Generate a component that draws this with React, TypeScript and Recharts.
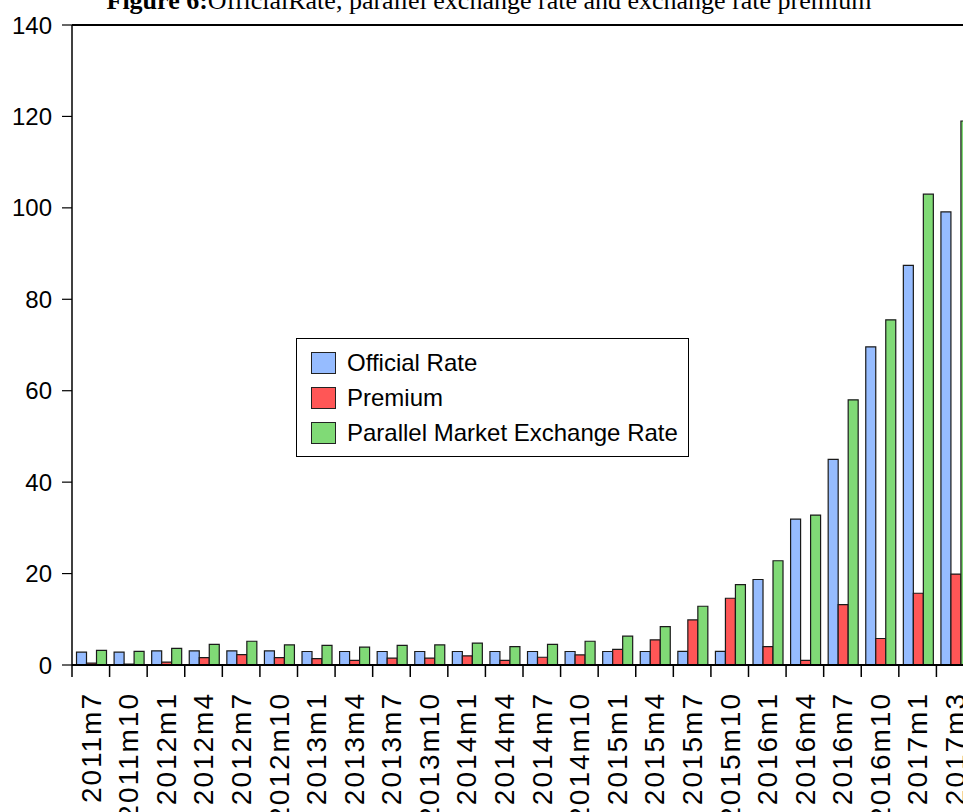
import React from 'react';
import { BarChart, Bar, XAxis, YAxis, Legend, ReferenceLine } from 'recharts';

const periods = [
  '2011m7', '2011m10', '2012m1', '2012m4', '2012m7', '2012m10',
  '2013m1', '2013m4', '2013m7', '2013m10', '2014m1', '2014m4',
  '2014m7', '2014m10', '2015m1', '2015m4', '2015m7', '2015m10',
  '2016m1', '2016m4', '2016m7', '2016m10', '2017m1', '2017m3',
];
const officialRate = [
  2.8, 2.8, 3.1, 3.1, 3.1, 3.1, 2.95, 2.95, 2.95, 2.95, 2.95, 2.95,
  2.95, 2.95, 2.95, 2.95, 3.0, 3.0, 18.7, 31.9, 45.0, 69.6, 87.4, 99.1,
];
const premium = [
  0.4, 0.2, 0.65, 1.6, 2.25, 1.6, 1.4, 1.0, 1.5, 1.5, 2.0, 1.0,
  1.7, 2.2, 3.4, 5.5, 9.85, 14.6, 4.0, 1.0, 13.2, 5.8, 15.7, 19.9,
];
const parallelRate = [
  3.2, 3.0, 3.65, 4.5, 5.2, 4.4, 4.3, 3.9, 4.3, 4.4, 4.8, 4.0,
  4.5, 5.2, 6.3, 8.4, 12.85, 17.6, 22.8, 32.8, 58.0, 75.5, 103.0, 119.0,
];
const seriesNames = ['Official Rate', 'Premium', 'Parallel Market Exchange Rate'];
const yTicks = [0, 20, 40, 60, 80, 100, 120, 140];

const data = periods.map((p, i) => ({
  period: p,
  official: officialRate[i],
  premium: premium[i],
  parallel: parallelRate[i],
}));

const COLORS = { official: '#96BCFF', premium: '#FF5656', parallel: '#80DA76' };
const SANS = '"Liberation Sans", Arial, sans-serif';

// the plot runs a little past the page edge, like the exported figure
const CHART_W = 980;
const CHART_H = 812;
const MARGIN = { top: 25, right: 6, left: 0, bottom: 0 };
const Y_AXIS_W = 72;
const X_AXIS_H = 147;
const BAND = (CHART_W - MARGIN.left - MARGIN.right - Y_AXIS_W) / periods.length;

// tick marks sit on the category boundaries, labels in the middle, rotated
function PeriodTick(props: any) {
  const { x, y, payload } = props;
  const edge = x - BAND / 2;
  return (
    <g>
      <line x1={edge} y1={y} x2={edge} y2={y + 12} stroke="#000" strokeWidth={1.5} />
      <text
        transform={`translate(${x},${y + 27}) rotate(-90)`}
        textAnchor="end"
        dy="0.35em"
        fontFamily={SANS}
        fontSize={28}
        letterSpacing={2}
        fill="#000"
      >
        {payload.value}
      </text>
    </g>
  );
}

function LegendBox({ payload }: any) {
  const items = [...(payload || [])].sort(
    (a: any, b: any) => seriesNames.indexOf(a.value) - seriesNames.indexOf(b.value)
  );
  return (
    <div
      style={{
        display: 'inline-block',
        border: '1.5px solid #000',
        background: '#fff',
        padding: '6px 10px 6px 14px',
        fontFamily: SANS,
        fontSize: 24,
        whiteSpace: 'nowrap',
      }}
    >
      {items.map((entry: any) => (
        <div key={entry.value} style={{ display: 'flex', alignItems: 'center', height: 35 }}>
          <span
            style={{
              width: 25,
              height: 22,
              background: entry.color,
              border: '1px solid #222',
              marginRight: 11,
              boxSizing: 'border-box',
            }}
          />
          <span>{entry.value}</span>
        </div>
      ))}
    </div>
  );
}

export default function App() {
  return (
    <div
      style={{
        position: 'fixed',
        left: 0,
        top: 0,
        width: 963,
        height: 812,
        overflow: 'hidden',
        background: '#fff',
      }}
    >
      <svg width={963} height={30} style={{ position: 'absolute', left: 0, top: 0, zIndex: 2 }}>
        <text x={489} y={9} textAnchor="middle" fontFamily='"Liberation Serif", "Times New Roman", serif' fontSize={26} fill="#000">
          <tspan fontWeight="bold">Figure 6:</tspan>
          OfficialRate, parallel exchange rate and exchange rate premium
        </text>
      </svg>
      <BarChart
        width={CHART_W}
        height={CHART_H}
        data={data}
        margin={MARGIN}
        barCategoryGap="12%"
        barGap={0}
      >
        <XAxis
          dataKey="period"
          interval={0}
          height={X_AXIS_H}
          tickLine={false}
          tickSize={0}
          tickMargin={0}
          axisLine={{ stroke: '#000', strokeWidth: 2 }}
          tick={<PeriodTick />}
        />
        <YAxis
          width={Y_AXIS_W}
          domain={[0, 140]}
          ticks={yTicks}
          interval={0}
          tickSize={10}
          tickMargin={10}
          axisLine={{ stroke: '#000', strokeWidth: 1.5 }}
          tickLine={{ stroke: '#000', strokeWidth: 1.2 }}
          tick={{ fontFamily: SANS, fontSize: 24, fill: '#000' }}
        />
        <ReferenceLine y={140} stroke="#000" strokeWidth={2} ifOverflow="visible" />
        <Legend
          layout="vertical"
          verticalAlign="middle"
          align="center"
          content={<LegendBox />}
          wrapperStyle={{ position: 'absolute', left: 296, top: 338, width: 'auto', height: 'auto' }}
        />
        <Bar dataKey="official" name="Official Rate" fill={COLORS.official} stroke="#1a1a1a" strokeWidth={1.2} isAnimationActive={false} />
        <Bar dataKey="premium" name="Premium" fill={COLORS.premium} stroke="#1a1a1a" strokeWidth={1.2} isAnimationActive={false} />
        <Bar dataKey="parallel" name="Parallel Market Exchange Rate" fill={COLORS.parallel} stroke="#1a1a1a" strokeWidth={1.2} isAnimationActive={false} />
      </BarChart>
    </div>
  );
}
